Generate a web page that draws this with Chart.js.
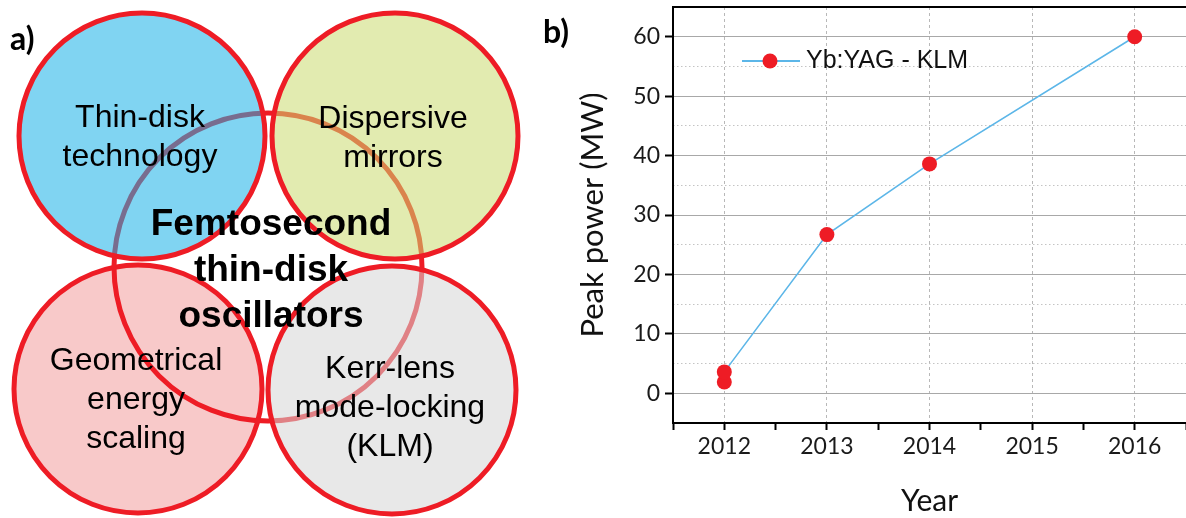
<!DOCTYPE html>
<html>
<head>
<meta charset="utf-8">
<script src="https://cdn.jsdelivr.net/npm/chart.js@4.4.1/dist/chart.umd.min.js"></script>
<style>
  html, body { margin: 0; padding: 0; background: #fff; }
  #wrap { position: relative; width: 1186px; height: 518px; overflow: hidden; }
  canvas { position: absolute; top: 0; }
  #venn { left: 0; }
  #power { left: 540px; }
</style>
</head>
<body>
<div id="wrap">
  <canvas id="venn" width="540" height="518"></canvas>
  <canvas id="power" width="646" height="518"></canvas>
</div>
<script>
// panel a) topics
const topics = ["Thin-disk\ntechnology", "Dispersive\nmirrors", "Geometrical\nenergy\nscaling", "Kerr-lens\nmode-locking\n(KLM)"];
const centreTopic = "Femtosecond\nthin-disk\noscillators";

// panel b) data
const seriesName = "Yb:YAG - KLM";
const years = [2012, 2012, 2013, 2014, 2016];
const peakPowerMW = [1.9, 3.6, 26.7, 38.6, 60];
const yearTicks = [2012, 2013, 2014, 2015, 2016];
const powerTicks = [0, 10, 20, 30, 40, 50, 60];
const powerMinorTicks = [5, 15, 25, 35, 45, 55];

const RED = "#ee1c25";

// venn layout (diagram units = px of the left panel)
const circleLayout = [
  { x: 142, y: 136, r: 123, fill: "rgba(24,177,231,0.55)", text: [-2, -9] },
  { x: 395, y: 136, r: 123, fill: "rgba(202,219,111,0.55)", text: [-2, -8] },
  { x: 138, y: 389, r: 124, fill: "#f8c9c9", text: [-2, -19] },
  { x: 392, y: 390, r: 124, fill: "rgba(213,213,213,0.55)", text: [-2, -12] }
];
const centreLayout = { x: 268, y: 267, r: 154, text: [3, -32] };
const backIndex = 2; // this circle sits under the centre ring

const vennText = {
  id: "vennText",
  afterDatasetsDraw(chart) {
    const { ctx, scales } = chart;
    const px = v => scales.x.getPixelForValue(v);
    const py = v => scales.y.getPixelForValue(v);
    ctx.save();
    ctx.fillStyle = "#000";
    ctx.textAlign = "center";
    ctx.textBaseline = "alphabetic";
    ctx.font = "32px 'Liberation Sans', Arial, sans-serif";
    topics.forEach((t, i) => {
      const c = circleLayout[i];
      t.split("\n").forEach((line, j) => {
        ctx.fillText(line, px(c.x) + c.text[0], py(c.y) + c.text[1] + j * 39);
      });
    });
    ctx.font = "bold 37px 'Liberation Sans', Arial, sans-serif";
    centreTopic.split("\n").forEach((line, j) => {
      ctx.fillText(line, px(centreLayout.x) + centreLayout.text[0], py(centreLayout.y) + centreLayout.text[1] + j * 46);
    });
    ctx.textAlign = "left";
    ctx.font = "bold 32px Lato, sans-serif";
    ctx.fillText("a)", 10, 50);
    ctx.restore();
  }
};

const bubble = c => ({ x: c.x, y: c.y, r: c.r });
const frontIdx = circleLayout.map((c, i) => i).filter(i => i !== backIndex);

new Chart(document.getElementById("venn"), {
  type: "bubble",
  data: {
    datasets: [
      {
        label: topics[backIndex],
        data: [bubble(circleLayout[backIndex])],
        backgroundColor: circleLayout[backIndex].fill,
        borderColor: RED, borderWidth: 5, clip: false, order: 3
      },
      {
        label: centreTopic,
        data: [bubble(centreLayout)],
        backgroundColor: "rgba(0,0,0,0)",
        borderColor: RED, borderWidth: 5, clip: false, order: 2
      },
      {
        label: "topics",
        data: frontIdx.map(i => bubble(circleLayout[i])),
        backgroundColor: frontIdx.map(i => circleLayout[i].fill),
        borderColor: RED, borderWidth: 5, clip: false, order: 1
      }
    ]
  },
  options: {
    responsive: false,
    animation: false,
    events: [],
    layout: { padding: 0, autoPadding: false },
    scales: {
      x: { type: "linear", min: 0, max: 540, display: false },
      y: { type: "linear", min: 0, max: 518, reverse: true, display: false }
    },
    plugins: { legend: { display: false }, tooltip: { enabled: false } }
  },
  plugins: [vennText]
});

// panel b)
const xTickValues = [];
yearTicks.forEach(y => xTickValues.push(y - 0.5, y));
xTickValues.push(yearTicks[yearTicks.length - 1] + 0.5);

const frameAndLegend = {
  id: "frameAndLegend",
  afterDraw(chart) {
    const { ctx, chartArea: a } = chart;
    const ds = chart.data.datasets[0];
    ctx.save();
    // top frame
    ctx.strokeStyle = "#000";
    ctx.lineWidth = 2;
    ctx.beginPath();
    ctx.moveTo(a.left - 1, a.top);
    ctx.lineTo(a.right, a.top);
    ctx.stroke();
    // legend
    const lx = a.left + 69, ly = a.top + 54;
    ctx.strokeStyle = ds.borderColor;
    ctx.lineWidth = 2;
    ctx.beginPath();
    ctx.moveTo(lx, ly);
    ctx.lineTo(lx + 58, ly);
    ctx.stroke();
    ctx.fillStyle = ds.pointBackgroundColor;
    ctx.beginPath();
    ctx.arc(lx + 28, ly, 7.5, 0, Math.PI * 2);
    ctx.fill();
    ctx.fillStyle = "#111";
    ctx.font = "25px 'Liberation Sans', Arial, sans-serif";
    ctx.textBaseline = "middle";
    ctx.fillText(ds.label, lx + 64, ly);
    // panel label
    ctx.fillStyle = "#000";
    ctx.textBaseline = "alphabetic";
    ctx.font = "bold 32px Lato, sans-serif";
    ctx.fillText("b)", 3, 43);
    ctx.restore();
  }
};

const noEdgePad = s => { s.paddingTop = 0; s.paddingBottom = 0; s.paddingLeft = 0; s.paddingRight = 0; };

new Chart(document.getElementById("power"), {
  type: "scatter",
  data: {
    datasets: [{
      label: seriesName,
      data: years.map((x, i) => ({ x: x, y: peakPowerMW[i] })),
      showLine: true,
      borderColor: "#5cb6e8",
      borderWidth: 1.6,
      pointRadius: 7.5,
      pointBackgroundColor: RED,
      pointBorderColor: RED,
      pointBorderWidth: 0
    }]
  },
  options: {
    responsive: false,
    animation: false,
    events: [],
    layout: { padding: { top: 7, right: 0, left: 0, bottom: 0 }, autoPadding: false },
    plugins: { legend: { display: false }, tooltip: { enabled: false } },
    scales: {
      x: {
        type: "linear",
        min: yearTicks[0] - 0.5,
        max: yearTicks[yearTicks.length - 1] + 0.5,
        afterBuildTicks: s => { s.ticks = xTickValues.map(v => ({ value: v })); },
        afterFit: s => { s.height = 95; noEdgePad(s); },
        ticks: {
          callback: v => (yearTicks.includes(v) ? String(v) : ""),
          font: { family: "Lato", size: 23 },
          color: "#1a1a1a",
          padding: 3,
          maxRotation: 0,
          autoSkip: false
        },
        grid: {
          color: c => (c.tick && yearTicks.includes(c.tick.value) ? "#b8b8b8" : "rgba(0,0,0,0)"),
          lineWidth: 1,
          tickColor: "#000",
          tickLength: 7,
          tickWidth: 2
        },
        border: { color: "#000", width: 2, dash: [3, 3] },
        title: {
          display: true, text: "Year", color: "#111",
          font: { family: "Lato", size: 30, lineHeight: 1 },
          padding: { top: 0, bottom: 2 }
        }
      },
      y: {
        type: "linear",
        min: -5,
        max: 65,
        afterBuildTicks: s => { s.ticks = powerTicks.map(v => ({ value: v })); },
        afterFit: s => { s.width = 133; noEdgePad(s); },
        ticks: {
          font: { family: "Lato", size: 23 },
          color: "#1a1a1a",
          padding: 5
        },
        grid: {
          color: "#a8a8a8",
          lineWidth: 1,
          tickColor: "#000",
          tickLength: 8,
          tickWidth: 2
        },
        border: { color: "#000", width: 2 },
        title: {
          display: true, text: "Peak power (MW)", color: "#111",
          font: { family: "Lato", size: 31, lineHeight: 1 },
          padding: { top: 37, bottom: 0 }
        }
      },
      yMinor: {
        type: "linear",
        position: "left",
        min: -5,
        max: 65,
        afterBuildTicks: s => { s.ticks = powerMinorTicks.map(v => ({ value: v })); },
        afterFit: s => { s.width = 0; noEdgePad(s); },
        ticks: { display: false },
        grid: { color: "#c4c4c4", lineWidth: 1, drawTicks: false },
        border: { display: false, dash: [1.5, 2.5] }
      }
    }
  },
  plugins: [frameAndLegend]
});
</script>
</body>
</html>
